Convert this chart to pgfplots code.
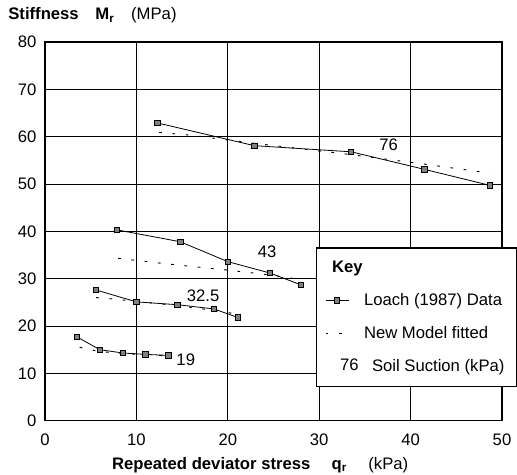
\documentclass[border=0pt]{standalone}
\usepackage{pgfplots}
\pgfplotsset{compat=1.18}
\usepackage{fontspec}
\setmainfont{Liberation Sans}

\begin{document}
\begin{tikzpicture}[font=\fontsize{12.5}{15}\selectfont]
\begin{axis}[
    name=ax,
    scale only axis,
    width=342.75pt, height=284pt,
    xmin=0, xmax=50, ymin=0, ymax=80,
    xtick={0,10,...,50}, ytick={0,10,...,80},
    grid=major,
    grid style={black, line width=0.6pt},
    axis line style={black, line width=0.8pt},
    major tick length=0pt,
    /pgf/number format/assume math mode=true,
    xticklabel style={yshift=-6pt},
    yticklabel style={xshift=-3pt},
    xlabel={\textbf{Repeated deviator stress}\quad\ \textbf{q$_{\mathbf r}$}\quad\ (kPa)},
    xlabel style={yshift=-2pt, xshift=-10pt},
    ylabel={\textbf{Stiffness}\quad\textbf{M$_{\mathbf r}$}\quad(MPa)},
    ylabel style={rotate=-90, anchor=west, at={(rel axis cs:0,1)}, xshift=-31pt, yshift=20pt},
    legend cell align=left,
    legend style={at={(axis cs:29.6,36.6)}, anchor=north west, draw=black,
        line width=0.8pt, fill=white, row sep=10pt, inner xsep=7pt, inner ysep=8pt,
        font=\fontsize{12.5}{15}\selectfont},
    legend image post style={line width=0.5pt},
]
\addlegendimage{empty legend}
\addlegendentry{\hspace*{-24pt}\textbf{Key}}

% Loach (1987) data
\addplot[black, line width=0.6pt, mark=square*, mark size=2pt,
    mark options={fill=gray, draw=black}]
    coordinates {(12.3,62.9)(22.9,58.1)(33.5,56.8)(41.5,53.1)(48.7,49.7)};
\addlegendentry{Loach (1987) Data}

% fitted model
\addplot[black, line width=0.7pt, dash pattern=on 2pt off 8pt]
    coordinates {(12.5,60.9)(16,60.3)(18,59.8)(20,59.3)(22.9,58.6)(33.5,56.2)(41.5,54.2)(48.7,52.3)};
\addlegendentry{New Model fitted}

\addlegendimage{legend image code/.code={\node at (0.3cm,0) {76};}}
\addlegendentry{\hspace*{6pt}Soil Suction (kPa)}

\addplot[black, line width=0.6pt, mark=square*, mark size=2pt,
    mark options={fill=gray, draw=black}, forget plot]
    coordinates {(7.9,40.3)(14.8,37.8)(20,33.6)(24.6,31.2)(28,28.7)};
\addplot[black, line width=0.7pt, dash pattern=on 2pt off 8pt, forget plot]
    coordinates {(8,34.3)(12,33.4)(16,32.6)(20,31.8)(24.6,30.8)(28,29.8)};

\addplot[black, line width=0.6pt, mark=square*, mark size=2pt,
    mark options={fill=gray, draw=black}, forget plot]
    coordinates {(5.6,27.6)(10,25.1)(14.5,24.5)(18.5,23.6)(21.1,21.8)};
\addplot[black, line width=0.7pt, dash pattern=on 2pt off 8pt, forget plot]
    coordinates {(5.6,26.0)(7.5,25.7)(10,25.2)(14.5,24.3)(18.5,23.3)(21.1,22.5)};

\addplot[black, line width=0.6pt, mark=square*, mark size=2pt,
    mark options={fill=gray, draw=black}, forget plot]
    coordinates {(3.5,17.7)(6,15.0)(8.5,14.3)(11,14.0)(13.5,13.8)};
\addplot[black, line width=0.7pt, dash pattern=on 2pt off 8pt, forget plot]
    coordinates {(3.8,15.5)(6,14.6)(8.5,14.2)(11,13.9)(13.5,13.7)};

\node at (axis cs:37.6,58.2) {76};
\node at (axis cs:24.3,35.6) {43};
\node at (axis cs:17.3,26.3) {32.5};
\node at (axis cs:15.4,12.8) {19};
\end{axis}
\pgfresetboundingbox
\path (ax.south west) ++(-33.75pt,-40.5pt) coordinate (bl);
\path (ax.north east) ++(11.25pt,31.5pt) coordinate (tr);
\path (bl) rectangle (tr);
\end{tikzpicture}
\end{document}
